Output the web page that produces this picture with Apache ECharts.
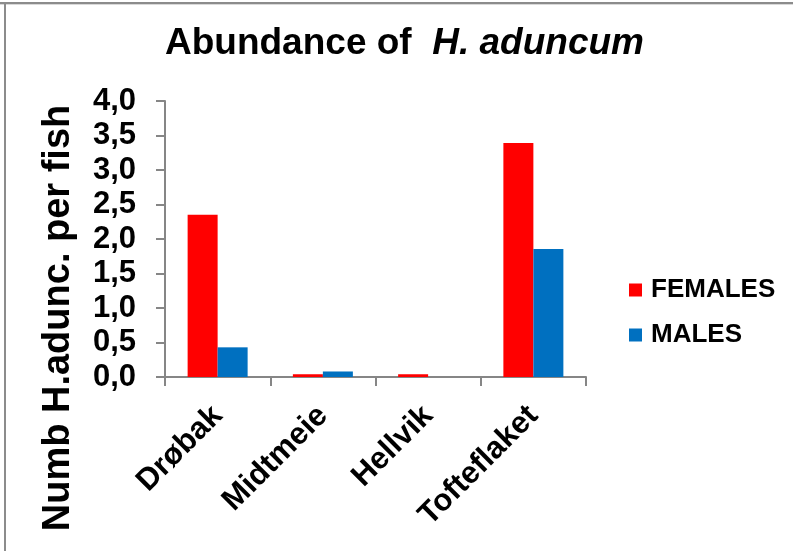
<!DOCTYPE html>
<html>
<head>
<meta charset="utf-8">
<script src="https://cdn.jsdelivr.net/npm/echarts@6/dist/echarts.min.js"></script>
<style>
  html, body { margin: 0; padding: 0; background: #ffffff; }
  #chart { width: 793px; height: 551px; }
</style>
</head>
<body>
<div id="chart"></div>
<script>
// Sampling sites
const sites = ['Drøbak', 'Midtmeie', 'Hellvik', 'Tofteflaket'];
// Mean number of H. aduncum per fish, by sex
const females = [2.35, 0.04, 0.04, 3.39];
const males = [0.43, 0.08, 0.0, 1.855];
// Value axis ticks
const yTicks = [0, 0.5, 1, 1.5, 2, 2.5, 3, 3.5, 4];

const FONT = '"Liberation Sans", Arial, sans-serif';
const AXIS_GREY = '#868686';

const chart = echarts.init(document.getElementById('chart'), null, { renderer: 'canvas' });

chart.setOption({
  backgroundColor: '#ffffff',
  animation: false,
  title: {
    text: '{n|Abundance of  }{i|H. aduncum}',
    left: 160,
    top: 20,
    textStyle: {
      rich: {
        n: { fontFamily: FONT, fontWeight: 'bold', fontSize: 37, color: '#000' },
        i: { fontFamily: FONT, fontWeight: 'bold', fontStyle: 'italic', fontSize: 37, color: '#000' }
      }
    }
  },
  legend: {
    orient: 'vertical',
    left: 624,
    top: 272,
    itemWidth: 13,
    itemHeight: 13,
    itemGap: 19,
    icon: 'rect',
    textStyle: { fontFamily: FONT, fontWeight: 'bold', fontSize: 26, color: '#000', padding: [0, 0, 0, 4] },
    data: ['FEMALES', 'MALES']
  },
  grid: { left: 165, right: 207, top: 101, bottom: 174, containLabel: false },
  xAxis: {
    type: 'category',
    data: sites,
    axisLine: { lineStyle: { color: AXIS_GREY, width: 2 } },
    axisTick: { show: true, length: 9, lineStyle: { color: AXIS_GREY, width: 2 } },
    axisLabel: {
      rotate: 45,
      margin: 34,
      fontFamily: FONT, fontWeight: 'bold', fontSize: 31, color: '#000'
    }
  },
  yAxis: {
    type: 'value',
    min: yTicks[0],
    max: yTicks[yTicks.length - 1],
    interval: yTicks[1] - yTicks[0],
    axisLine: { show: true, lineStyle: { color: AXIS_GREY, width: 2 } },
    axisTick: { show: true, length: 9, lineStyle: { color: AXIS_GREY, width: 2 } },
    splitLine: { show: false },
    axisLabel: {
      margin: 29,
      fontFamily: FONT, fontWeight: 'bold', fontSize: 31, color: '#000',
      formatter: v => v.toFixed(1).replace('.', ',')
    }
  },
  graphic: [
    // outer frame lines
    { type: 'rect', shape: { x: 0, y: 2, width: 793, height: 2 }, style: { fill: '#8c8c8c' }, silent: true },
    { type: 'rect', shape: { x: 0, y: 4, width: 793, height: 1 }, style: { fill: '#d9d9d9' }, silent: true },
    { type: 'rect', shape: { x: 4, y: 2, width: 2, height: 549 }, style: { fill: '#8c8c8c' }, silent: true },
    {
      type: 'text',
      x: 59, y: 318,
      rotation: Math.PI / 2,
      style: {
        text: 'Numb H.adunc. per fish',
        fontFamily: FONT, fontWeight: 'bold', fontSize: 38, fill: '#000',
        align: 'center', verticalAlign: 'middle'
      }
    }
  ],
  series: [
    {
      name: 'FEMALES', type: 'bar', data: females,
      barWidth: 30, barGap: '0%',
      itemStyle: { color: '#FF0000' }
    },
    {
      name: 'MALES', type: 'bar', data: males,
      barWidth: 30, barGap: '0%',
      itemStyle: { color: '#0070C0' }
    }
  ]
});
</script>
</body>
</html>
